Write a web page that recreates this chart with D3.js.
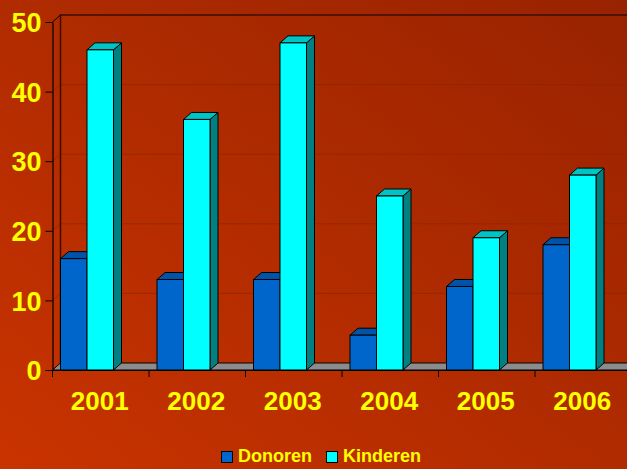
<!DOCTYPE html>
<html>
<head>
<meta charset="utf-8">
<script src="https://cdn.jsdelivr.net/npm/d3@7"></script>
<style>
  html, body { margin: 0; padding: 0; overflow: hidden; }
  #chart { width: 627px; height: 469px; }
</style>
</head>
<body>
<div id="chart"></div>
<script>
// data
const years = ['2001', '2002', '2003', '2004', '2005', '2006'];
const donoren = [16, 13, 13, 5, 12, 18];
const kinderen = [46, 36, 47, 25, 19, 28];
const seriesNames = ['Donoren', 'Kinderen'];
const yTicks = [0, 10, 20, 30, 40, 50];

const W = 627, H = 469;
const font = 'Arial, "Liberation Sans", sans-serif';
const depth = { dx: 8, dy: -7 };

const colors = {
  Donoren: { front: '#0066cc', top: '#0053a6', side: '#004c99' },
  Kinderen: { front: '#00ffff', top: '#00c4c4', side: '#008080' },
};

const svg = d3.select('#chart').append('svg')
  .attr('width', W).attr('height', H)
  .style('display', 'block');

// background gradient
const defs = svg.append('defs');
const grad = defs.append('linearGradient').attr('id', 'bg')
  .attr('x1', '0%').attr('y1', '100%').attr('x2', '100%').attr('y2', '0%');
grad.append('stop').attr('offset', '0%').attr('stop-color', '#c93300');
grad.append('stop').attr('offset', '100%').attr('stop-color', '#982300');
svg.append('rect').attr('width', W).attr('height', H).attr('fill', 'url(#bg)');

// scales (front plane)
const x0 = d3.scaleBand().domain(years).range([52.5, 52.5 + 6 * 96.5]).padding(0);
const x1 = d3.scaleBand().domain(seriesNames).range([8, 8 + 53]).padding(0);
const y = d3.scaleLinear().domain([0, 50]).range([370, 22]);

const right = W + 20;
const g = svg.append('g');

// gridlines on the back wall and left wall
yTicks.filter(t => t > 0 && t < 50).forEach(t => {
  const yy = y(t);
  g.append('polyline')
    .attr('points', `${x0.range()[0]},${yy} ${x0.range()[0] + depth.dx},${yy + depth.dy} ${right},${yy + depth.dy}`)
    .attr('fill', 'none').attr('stroke', '#8a2600').attr('stroke-opacity', 0.7).attr('stroke-width', 1);
});

// walls
const xl = x0.range()[0];
g.append('polyline')
  .attr('points', `${xl + depth.dx},${y(0) + depth.dy} ${xl + depth.dx},${y(50) + depth.dy} ${right},${y(50) + depth.dy}`)
  .attr('fill', 'none').attr('stroke', '#3a0e00').attr('stroke-width', 1.5);
g.append('line')
  .attr('x1', xl).attr('y1', y(50)).attr('x2', xl + depth.dx).attr('y2', y(50) + depth.dy)
  .attr('stroke', '#000').attr('stroke-width', 1);

// floor
g.append('polygon')
  .attr('points', `${xl},${y(0)} ${xl + depth.dx},${y(0) + depth.dy} ${right},${y(0) + depth.dy} ${right},${y(0)}`)
  .attr('fill', '#8c8c8c').attr('stroke', '#000').attr('stroke-width', 1);

// bars
const rows = years.map((yr, i) => ({ yr, Donoren: donoren[i], Kinderen: kinderen[i] }));
rows.forEach(r => {
  seriesNames.forEach(s => {
    const bx = x0(r.yr) + x1(s);
    const bw = x1.bandwidth();
    const top = y(r[s]);
    const base = y(0);
    const c = colors[s];
    const bar = g.append('g');
    bar.append('polygon')
      .attr('points', `${bx + bw},${top} ${bx + bw + depth.dx},${top + depth.dy} ${bx + bw + depth.dx},${base + depth.dy} ${bx + bw},${base}`)
      .attr('fill', c.side).attr('stroke', '#000').attr('stroke-width', 1).attr('stroke-linejoin', 'round');
    bar.append('polygon')
      .attr('points', `${bx},${top} ${bx + bw},${top} ${bx + bw + depth.dx},${top + depth.dy} ${bx + depth.dx},${top + depth.dy}`)
      .attr('fill', c.top).attr('stroke', '#000').attr('stroke-width', 1).attr('stroke-linejoin', 'round');
    bar.append('rect')
      .attr('x', bx).attr('y', top).attr('width', bw).attr('height', base - top)
      .attr('fill', c.front).attr('stroke', '#000').attr('stroke-width', 1);
  });
});

// y axis
const yAxis = svg.append('g').attr('transform', `translate(${xl},0)`)
  .call(d3.axisLeft(y).tickValues(yTicks).tickSize(7).tickSizeOuter(0).tickPadding(4));
yAxis.select('.domain').attr('stroke', '#000').attr('stroke-width', 1.2);
yAxis.selectAll('.tick line').attr('stroke', '#000');
yAxis.selectAll('.tick text')
  .attr('fill', '#ffff00').attr('font-family', font).attr('font-size', 27).attr('font-weight', 'bold')
  .attr('dy', '0.36em');

// x axis
const xAxis = svg.append('g').attr('transform', `translate(0,${y(0)})`)
  .call(d3.axisBottom(x0).tickSize(0).tickSizeOuter(0).tickPadding(22));
xAxis.select('.domain').attr('stroke', '#000').attr('stroke-width', 1.2);
xAxis.selectAll('.tick text')
  .attr('fill', '#ffff00').attr('font-family', font).attr('font-size', 26).attr('font-weight', 'bold')
  .attr('dx', -1);
// tick marks at category boundaries
years.forEach(yr => {
  xAxis.append('line').attr('x1', x0(yr)).attr('x2', x0(yr)).attr('y1', 0).attr('y2', 7).attr('stroke', '#000');
});

// legend
const legend = svg.append('g').attr('transform', 'translate(221,451)');
const legendX = [0, 105];
seriesNames.forEach((s, i) => {
  const lg = legend.append('g').attr('transform', `translate(${legendX[i]},0)`);
  lg.append('rect').attr('x', 0.5).attr('y', 0.5).attr('width', 11).attr('height', 11)
    .attr('fill', colors[s].front).attr('stroke', '#000').attr('stroke-width', 1);
  lg.append('text').attr('x', 17).attr('y', 11).text(s)
    .attr('fill', '#ffff00').attr('font-family', font).attr('font-size', 18).attr('font-weight', 'bold');
});
</script>
</body>
</html>
